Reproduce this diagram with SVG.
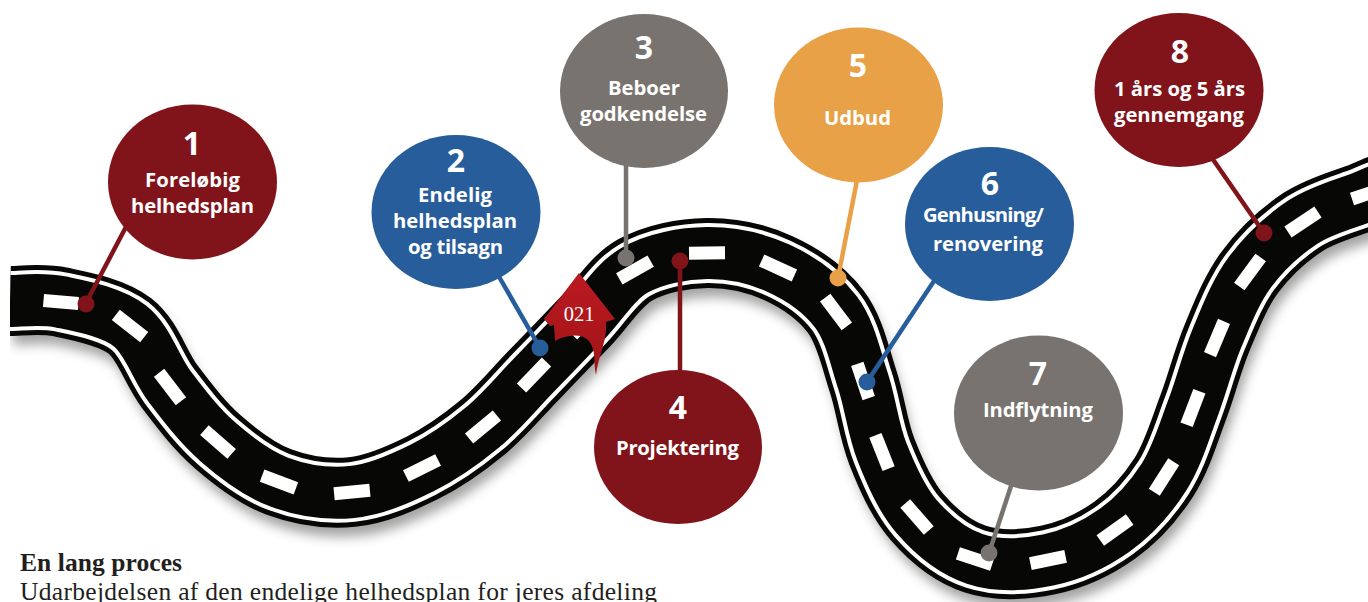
<svg xmlns="http://www.w3.org/2000/svg" width="1368" height="602" viewBox="0 0 1368 602">
<defs>
<filter id="blur" x="-5%" y="-20%" width="110%" height="140%"><feGaussianBlur stdDeviation="6"/></filter>
<linearGradient id="ag" x1="0" y1="0" x2="0" y2="1"><stop offset="0" stop-color="#bb1a20"/><stop offset="1" stop-color="#a01418"/></linearGradient>
<path id="road" d="M10 301 C18.500 301.200 41 297.800 61 302 C81 306.200 111.800 311.800 130 326 C148.200 340.200 155.300 367.700 170 387 C184.700 406.300 199.800 426.200 218 442 C236.200 457.800 256.700 473.700 279 482 C301.300 490.300 328.200 494.300 352 492 C375.800 489.700 400.200 478.800 422 468 C443.800 457.200 464.300 442.500 483 427 C501.700 411.500 517 392.500 534 375 C551 357.500 568.200 339.500 585 322 C601.800 304.500 614.700 281.500 635 270 C655.300 258.500 683.200 253.300 707 253 C730.800 252.700 756.500 258.200 778 268 C799.500 277.800 821.800 293.200 836 312 C850.200 330.800 855.300 357.700 863 381 C870.700 404.300 873 429.300 882 452 C891 474.700 901.500 499.200 917 517 C932.500 534.800 953.200 551.800 975 559 C996.800 566.200 1024.700 564.800 1048 560 C1071.300 555.200 1095.700 543.800 1115 530 C1134.300 516.200 1151 497.300 1164 477 C1177 456.700 1184.200 431.200 1193 408 C1201.800 384.800 1207.500 360.700 1217 338 C1226.500 315.300 1235.700 291.300 1250 272 C1264.300 252.700 1284.200 234.500 1303 222 C1321.800 209.500 1350.200 202.300 1363 197 C1375.800 191.700 1377 191 1380 190"/>
</defs>
<style>
.r{fill:none}
.d line{stroke:#fff;stroke-width:13}
.n{font-family:"Open Sans","Liberation Sans",sans-serif;font-weight:700;fill:#fff;text-anchor:middle}
.num{font-size:32px}
.t{font-size:20.300px}
.b{font-family:"Liberation Serif",serif;fill:#231f20;font-size:25.500px}
</style>
<rect width="1368" height="602" fill="#fff"/>
<g id="road-group">
<use href="#road" class="r" stroke="#666" stroke-width="66" opacity=".6" transform="translate(4 11)" filter="url(#blur)"/>
<use href="#road" class="r" stroke="#070705" stroke-width="70"/>
<use href="#road" class="r" stroke="#fff" stroke-width="60"/>
<use href="#road" class="r" stroke="#070705" stroke-width="52"/>
<g class="d">
<line x1="43.500" y1="300.500" x2="78.500" y2="303.500"/>
<line x1="115.800" y1="314.900" x2="144.200" y2="337.100"/>
<line x1="159.100" y1="372.700" x2="180.900" y2="401.300"/>
<line x1="204.400" y1="430.200" x2="231.600" y2="453.800"/>
<line x1="262.100" y1="475.700" x2="295.900" y2="488.300"/>
<line x1="334.100" y1="493.700" x2="369.900" y2="490.300"/>
<line x1="405.900" y1="476" x2="438.100" y2="460"/>
<line x1="469.100" y1="438.500" x2="496.900" y2="415.500"/>
<line x1="521.500" y1="387.900" x2="546.500" y2="362.100"/>
<line x1="572.500" y1="335" x2="597.500" y2="309"/>
<line x1="619.300" y1="278.900" x2="650.700" y2="261.100"/>
<line x1="689" y1="253.200" x2="725" y2="252.800"/>
<line x1="761.600" y1="260.500" x2="794.400" y2="275.500"/>
<line x1="825.200" y1="297.700" x2="846.800" y2="326.300"/>
<line x1="857.300" y1="363.900" x2="868.700" y2="398.100"/>
<line x1="875.400" y1="435.300" x2="888.600" y2="468.700"/>
<line x1="905.200" y1="503.400" x2="928.800" y2="530.600"/>
<line x1="957.900" y1="553.400" x2="992.100" y2="564.600"/>
<line x1="1030.400" y1="563.600" x2="1065.600" y2="556.400"/>
<line x1="1100.300" y1="540.500" x2="1129.700" y2="519.500"/>
<line x1="1154.300" y1="492.200" x2="1173.700" y2="461.800"/>
<line x1="1186.600" y1="424.800" x2="1199.400" y2="391.200"/>
<line x1="1210" y1="354.600" x2="1224" y2="321.400"/>
<line x1="1239.300" y1="286.500" x2="1260.700" y2="257.500"/>
<line x1="1288" y1="232" x2="1318" y2="212"/>
<line x1="1352" y1="199" x2="1388" y2="187"/>
</g>
<rect x="0" y="250" width="10" height="120" fill="#fff"/>
</g>
<g id="connectors" fill="none" stroke-width="4.500">
<path d="M86 303 L127 225" stroke="#80141a"/>
<path d="M540 348 L498 275" stroke="#265d9a"/>
<path d="M626 258 V160" stroke="#78736f"/>
<path d="M680 261 V375" stroke="#80141a"/>
<path d="M838 278 L858 175" stroke="#e8a146"/>
<path d="M867 382 L936 278" stroke="#265d9a"/>
<path d="M989 553 L1013 480" stroke="#78736f"/>
<path d="M1264 233 L1212 158" stroke="#80141a"/>
<circle cx="86" cy="304" r="8.500" fill="#80141a"/>
<circle cx="540" cy="348" r="8.500" fill="#265d9a"/>
<circle cx="626" cy="258" r="8.500" fill="#78736f"/>
<circle cx="680" cy="261" r="8.500" fill="#80141a"/>
<circle cx="838" cy="278" r="8.500" fill="#e8a146"/>
<circle cx="867" cy="382" r="8.500" fill="#265d9a"/>
<circle cx="989" cy="553" r="8.500" fill="#78736f"/>
<circle cx="1264" cy="233" r="8.500" fill="#80141a"/>
</g>
<g id="arrow">
<path d="M579 273 L615 319 L606 322 L606 330 C605 345 598 358 596 375 C593 362 597 350 588 340 C581 333 565 335 555 341 L554 325 L550 326 L544 319 Z" fill="url(#ag)"/>
<text x="579" y="321" font-family="Liberation Serif,serif" font-size="20.500" fill="#fff" text-anchor="middle">021</text>
</g>
<g id="node1"><ellipse cx="192.500" cy="182" rx="84.500" ry="77.500" fill="#80141a"/><text class="n num" x="192" y="155">1</text><text class="n t" x="192.500" y="187" textLength="95">Foreløbig</text><text class="n t" x="192.500" y="213" textLength="123">helhedsplan</text></g>
<g id="node2"><ellipse cx="456" cy="212" rx="84.500" ry="77" fill="#265d9a"/><text class="n num" x="456" y="172">2</text><text class="n t" x="455" y="202" textLength="74">Endelig</text><text class="n t" x="455" y="228" textLength="124">helhedsplan</text><text class="n t" x="455.500" y="254" textLength="95">og tilsagn</text></g>
<g id="node3"><ellipse cx="644" cy="91" rx="84" ry="77" fill="#78736f"/><text class="n num" x="644" y="59">3</text><text class="n t" x="644" y="95" textLength="72">Beboer</text><text class="n t" x="643.500" y="121" textLength="127">godkendelse</text></g>
<g id="node4"><ellipse cx="678" cy="447" rx="84" ry="77" fill="#80141a"/><text class="n num" x="678" y="419">4</text><text class="n t" x="677.500" y="455" textLength="123">Projektering</text></g>
<g id="node5"><ellipse cx="858.500" cy="105" rx="84.500" ry="77.500" fill="#e8a146"/><text class="n num" x="858" y="77">5</text><text class="n t" x="857.500" y="125" textLength="67">Udbud</text></g>
<g id="node6"><ellipse cx="989.500" cy="224" rx="84.500" ry="77" fill="#265d9a"/><text class="n num" x="990" y="195">6</text><text class="n t" x="983.500" y="222" textLength="121">Genhusning/</text><text class="n t" x="988" y="251" textLength="110">renovering</text></g>
<g id="node7"><ellipse cx="1038.500" cy="413" rx="84.500" ry="77.500" fill="#78736f"/><text class="n num" x="1038" y="385">7</text><text class="n t" x="1038" y="417" textLength="110">Indflytning</text></g>
<g id="node8"><ellipse cx="1179" cy="90" rx="84.500" ry="77" fill="#80141a"/><text class="n num" x="1180" y="63">8</text><text class="n t" x="1179.500" y="96" textLength="131">1 års og 5 års</text><text class="n t" x="1179" y="122" textLength="130">gennemgang</text></g>
<g id="caption">
<text class="b" x="20" y="571" font-weight="700" textLength="162">En lang proces</text>
<text class="b" x="20" y="600" textLength="637">Udarbejdelsen af den endelige helhedsplan for jeres afdeling</text>
</g>
</svg>
